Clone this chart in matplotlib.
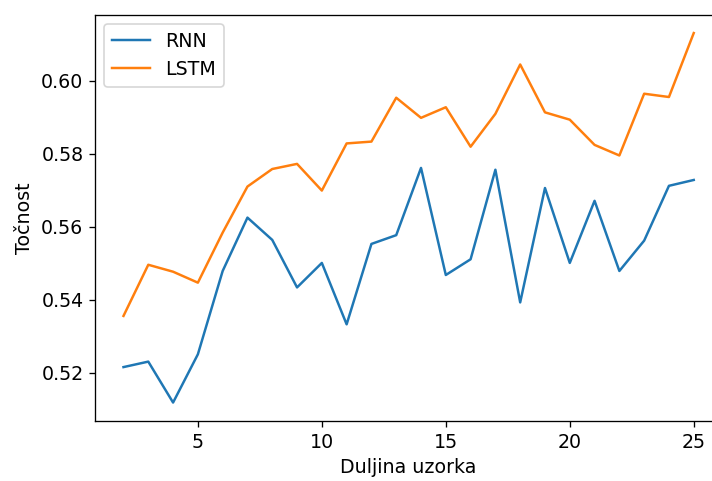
import matplotlib
matplotlib.use("Agg")
import matplotlib.pyplot as plt

# duljina uzorka i tocnost modela
duljina = list(range(2, 26))
rnn = [0.5216, 0.5231, 0.5119, 0.5251, 0.5479, 0.5625, 0.5564, 0.5434,
       0.5501, 0.5333, 0.5553, 0.5577, 0.5761, 0.5468, 0.5511, 0.5756,
       0.5393, 0.5706, 0.5501, 0.5671, 0.5479, 0.5562, 0.5712, 0.5728]
lstm = [0.5356, 0.5496, 0.5477, 0.5447, 0.5584, 0.5710, 0.5758, 0.5772,
        0.5699, 0.5828, 0.5833, 0.5953, 0.5898, 0.5927, 0.5819, 0.5909,
        0.6044, 0.5913, 0.5893, 0.5824, 0.5795, 0.5964, 0.5955, 0.6130]

dpi = 118.8
plt.rcParams['font.size'] = 11.5
fig = plt.figure(figsize=(712 / dpi, 481 / dpi), dpi=dpi)
# desni rub osi je odrezan kao na originalu
ax = fig.add_axes([0.1334, 0.1247, 0.881, 0.845])
ax.plot(duljina, rnn, label='RNN')
ax.plot(duljina, lstm, label='LSTM')
ax.set_xlabel('Duljina uzorka')
ax.set_ylabel('Točnost')
ax.legend(loc='upper left')
fig.savefig('out.png', dpi=dpi)
